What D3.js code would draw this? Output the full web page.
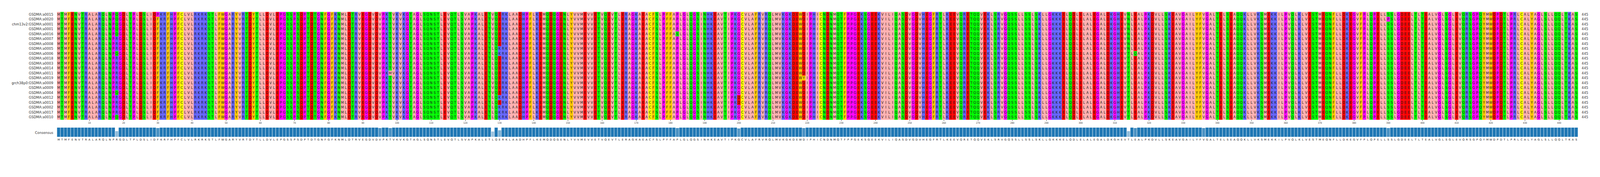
<!DOCTYPE html>
<html>
<head>
<meta charset="utf-8">
<script src="https://cdn.jsdelivr.net/npm/d3@7"></script>
<style>
  html, body { margin: 0; padding: 0; background: #fff; overflow: hidden; }
  svg { display: block; width: 100vw; height: 100vh; }
  text { font-family: "DejaVu Sans", sans-serif; }
</style>
</head>
<body>
<svg id="chart" viewBox="0 0 4718 452" preserveAspectRatio="xMinYMin meet"></svg>
<script>
// Sequence names, top to bottom
var names = ["GSDMA:a0015", "GSDMA:a0020", "chm13v2:GSDMA:a0001", "GSDMA:a0001", "GSDMA:a0016",
  "GSDMA:a0007", "GSDMA:a0008", "GSDMA:a0005", "GSDMA:a0006", "GSDMA:a0018", "GSDMA:a0003",
  "GSDMA:a0014", "GSDMA:a0011", "GSDMA:a0019", "grch38p0:GSDMA:a0009", "GSDMA:a0009",
  "GSDMA:a0004", "GSDMA:a0012", "GSDMA:a0013", "GSDMA:a0002", "GSDMA:a0017", "GSDMA:a0010"];

var consensus = "MTMFENVTRALARQLNPRGDLTPLDSLIDFKRF" +
  "HPFCLVLRKRKSTLFWGARYVRTDYTLLDVLEPGSSPSDPTDTGNFGFKNMLDTRVEGDVDVPKTVKVKGTAGLSQNSTLEVQTLSVAPKALETLQERK" +
  "LAADHPFLKEMQDQGENLYVVMEVVETVQEVTLERAGKAEACFSLPFFAPLGLQGSINHKEAVTIPKGCVLAFRVRQLMVKGKDEWDIPHICNDNMQTF" +
  "PPGEKSGEEKVILIQASDVGDVHEGFRTLKEEVQRETQQVEKLSRVGQSSLLSSLSKLLGKKKELQDLELALEGALDKGHEVTLEALPKDVLLSKEAVGA" +
  "ILYFVGALTELSEAQQKLLVKSMEKKILPVQLKLVESTMEQNFLLDKEGVFPLQPELLSSLGDEELTLTEALVGLSGLEVQRSGPQYMWDPDTLPRLCALYAGLSLLQQLTKAS";

// Differences from the consensus: [column (1-based), residue, rows]
var variants = [
  [18, "Q", [0, 1, 2, 3, 4, 8, 16, 21]],
  [30, "P", [0]],
  [95, "A", [20]],
  [98, "M", [12]],
  [128, "V", [0, 1, 2, 3, 4, 5, 14, 15, 16]],
  [130, "K", [7, 8, 17, 19, 20, 21]],
  [182, "S", [4]],
  [200, "D", [17, 18]],
  [219, "Y", [13]],
  [314, "N", [0, 1, 2, 3, 4, 5, 6, 7]],
  [316, "Q", [8]],
  [336, "A", [11]],
  [390, "P", [1]]
];

// Zappo colours
var zappo = { I: "#ffafaf", L: "#ffafaf", V: "#ffafaf", A: "#ffafaf", M: "#ffafaf",
  F: "#ffc800", W: "#ffc800", Y: "#ffc800", K: "#6464ff", R: "#6464ff", H: "#6464ff",
  D: "#ff0000", E: "#ff0000", S: "#00ff00", T: "#00ff00", N: "#00ff00", Q: "#00ff00",
  P: "#ff00ff", G: "#ff00ff", C: "#ffff00" };

var seqs = names.map(function() { return consensus.split(""); });
variants.forEach(function(v) {
  v[2].forEach(function(r) { seqs[r][v[0] - 1] = v[1]; });
});
var nCol = consensus.length;

var cells = [];
seqs.forEach(function(s, r) {
  s.forEach(function(aa, c) { cells.push({ row: r, col: c + 1, aa: aa }); });
});

var identity = consensus.split("").map(function(aa, c) {
  var n = seqs.filter(function(s) { return s[c] === aa; }).length;
  return { col: c + 1, aa: aa, value: n / seqs.length };
});

var svg = d3.select("#chart");
var x = d3.scaleBand().domain(d3.range(1, nCol + 1)).range([168, 4653]);
var y = d3.scaleBand().domain(d3.range(names.length)).range([35, 352]);
var w = x.bandwidth(), h = y.bandwidth();

svg.append("g").selectAll("rect").data(cells).enter().append("rect")
  .attr("x", function(d) { return x(d.col); })
  .attr("y", function(d) { return y(d.row); })
  .attr("width", w + 0.3).attr("height", h + 0.3)
  .attr("fill", function(d) { return zappo[d.aa] || "#fff"; });

svg.append("g").selectAll("text").data(cells).enter().append("text")
  .attr("x", function(d) { return x(d.col) + w / 2; })
  .attr("y", function(d) { return y(d.row) + h / 2; })
  .attr("text-anchor", "middle").attr("dominant-baseline", "central")
  .attr("font-size", 10).attr("fill", "#222")
  .text(function(d) { return d.aa; });

svg.append("g").selectAll("text").data(names).enter().append("text")
  .attr("x", 157).attr("y", function(d, i) { return y(i) + h / 2; })
  .attr("text-anchor", "end").attr("dominant-baseline", "central")
  .attr("font-size", 10).attr("fill", "#333")
  .text(function(d) { return d; });

svg.append("g").selectAll("text").data(names).enter().append("text")
  .attr("x", 4664).attr("y", function(d, i) { return y(i) + h / 2; })
  .attr("dominant-baseline", "central")
  .attr("font-size", 10).attr("fill", "#333")
  .text(nCol);

// position ticks
var ticks = d3.range(10, nCol + 1, 10);
var axis = d3.axisBottom(x).tickValues(ticks).tickSize(4).tickPadding(3);
var ag = svg.append("g").attr("transform", "translate(0,352)").call(axis);
ag.select(".domain").remove();
ag.selectAll("text").attr("font-size", 7).attr("fill", "#333").style("font-family", "DejaVu Sans Condensed, DejaVu Sans");
ag.selectAll("line").attr("stroke", "#333");

// consensus identity bars
var yb = d3.scaleLinear().domain([0, 1]).range([403, 375]);
svg.append("g").selectAll("rect").data(identity).enter().append("rect")
  .attr("x", function(d) { return x(d.col); })
  .attr("y", function(d) { return yb(d.value); })
  .attr("width", w).attr("height", function(d) { return 403 - yb(d.value); })
  .attr("fill", "#1f77b4")
  .attr("fill-opacity", function(d) { return d.value < 1 ? Math.max(0.35, d.value - 0.15) : 1; })
  .attr("stroke", "#ffffff").attr("stroke-width", 0.8);

svg.append("text").attr("x", 157).attr("y", 390)
  .attr("text-anchor", "end").attr("dominant-baseline", "central")
  .attr("font-size", 10).attr("fill", "#333").text("Consensus");

svg.append("g").selectAll("text").data(identity).enter().append("text")
  .attr("x", function(d) { return x(d.col) + w / 2; })
  .attr("y", 411)
  .attr("text-anchor", "middle").attr("dominant-baseline", "central")
  .attr("font-size", 8).attr("fill", "#222")
  .text(function(d) { return d.aa; });
</script>
</body>
</html>
